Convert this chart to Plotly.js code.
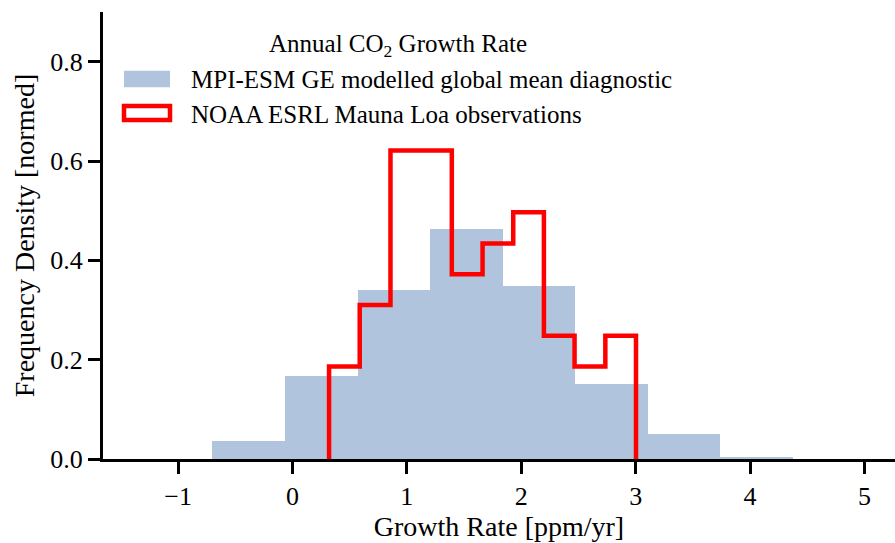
<!DOCTYPE html>
<html>
<head>
<meta charset="utf-8">
<script src="https://cdn.plot.ly/plotly-3.0.1.min.js"></script>
<style>html,body{margin:0;padding:0;background:#fff;}#chart{width:895px;height:543px;}</style>
</head>
<body>
<div id="chart"></div>
<script>
// Modelled (MPI-ESM GE) histogram: bin edges and normalised density
const modelEdges = [-0.70, -0.0655, 0.569, 1.2035, 1.838, 2.4725, 3.107, 3.7415, 4.376];
const modelDensity = [0.037, 0.168, 0.340, 0.463, 0.349, 0.152, 0.050, 0.005];

// Observed (NOAA ESRL Mauna Loa) histogram: bin edges and normalised density
const obsEdges = [0.320, 0.588, 0.857, 1.125, 1.393, 1.662, 1.930, 2.198, 2.466, 2.735, 3.003];
const obsDensity = [0.186, 0.310, 0.621, 0.621, 0.372, 0.434, 0.497, 0.248, 0.186, 0.248];

const xTicks = [-1, 0, 1, 2, 3, 4, 5];
const yTicks = [0.0, 0.2, 0.4, 0.6, 0.8];

const legendTitle = 'Annual CO<sub>2</sub> Growth Rate';
const modelName = 'MPI-ESM GE modelled global mean diagnostic';
const obsName = 'NOAA ESRL Mauna Loa observations';

const FONT = '"Liberation Serif", "Times New Roman", serif';

// bars from edges
const mCenters = [], mWidths = [];
for (let i = 0; i < modelDensity.length; i++) {
  mCenters.push((modelEdges[i] + modelEdges[i + 1]) / 2);
  mWidths.push(modelEdges[i + 1] - modelEdges[i]);
}

// step outline from edges
const sx = [obsEdges[0]], sy = [0];
for (let i = 0; i < obsDensity.length; i++) {
  sx.push(obsEdges[i], obsEdges[i + 1]);
  sy.push(obsDensity[i], obsDensity[i]);
}
sx.push(obsEdges[obsEdges.length - 1]); sy.push(0);

const traces = [
  {type: 'bar', x: mCenters, y: modelDensity, width: mWidths, name: modelName,
   marker: {color: '#b0c4de', line: {width: 0}}, hoverinfo: 'skip', showlegend: false},
  {type: 'scatter', mode: 'lines', x: sx, y: sy, name: obsName,
   line: {color: '#ff0000', width: 4.5, shape: 'linear'}, hoverinfo: 'skip', showlegend: false}
];

const L = 103, T = 12, W = 895, H = 543, B = 84;
const pw = W - L, ph = H - T - B;
const px = v => (v - L) / pw;
const py = v => (H - B - v) / ph;

const layout = {
  width: W, height: H,
  margin: {l: L, r: 0, t: T, b: B, pad: 0},
  paper_bgcolor: '#fff', plot_bgcolor: '#fff',
  font: {family: FONT, color: '#000', size: 25},
  showlegend: false,
  bargap: 0,
  xaxis: {
    range: [-1.656, 5.267], tickvals: xTicks, ticktext: xTicks.map(v => v < 0 ? '\u2212' + Math.abs(v) : String(v)),
    showgrid: false, zeroline: false, showline: true, linecolor: '#000', linewidth: 3,
    ticks: 'outside', ticklen: 12, tickwidth: 3, tickcolor: '#000',
    tickfont: {family: FONT, size: 26, color: '#000'},
    title: {text: 'Growth Rate [ppm/yr]', font: {family: FONT, size: 28, color: '#000'}, standoff: 3}
  },
  yaxis: {
    range: [0, 0.9], tickvals: yTicks, ticktext: yTicks.map(v => v.toFixed(1)),
    showgrid: false, zeroline: false, showline: true, linecolor: '#000', linewidth: 3,
    ticks: 'outside', ticklen: 12, tickwidth: 3, tickcolor: '#000',
    tickfont: {family: FONT, size: 26, color: '#000'},
    title: {text: 'Frequency Density [normed]', font: {family: FONT, size: 28, color: '#000'}, standoff: 8}
  },
  shapes: [
    {type: 'rect', xref: 'paper', yref: 'paper', x0: px(124), x1: px(170), y0: py(87.3), y1: py(70.7),
     fillcolor: '#b0c4de', line: {width: 0}},
    {type: 'rect', xref: 'paper', yref: 'paper', x0: px(124), x1: px(170), y0: py(120), y1: py(106),
     fillcolor: 'rgba(0,0,0,0)', line: {color: '#ff0000', width: 4.5}}
  ],
  annotations: [
    {xref: 'paper', yref: 'paper', x: px(398), y: py(45), text: legendTitle, showarrow: false,
     xanchor: 'center', yanchor: 'middle', font: {family: FONT, size: 25, color: '#000'}},
    {xref: 'paper', yref: 'paper', x: px(189), y: py(79), text: modelName, showarrow: false,
     xanchor: 'left', yanchor: 'middle', font: {family: FONT, size: 25, color: '#000'}},
    {xref: 'paper', yref: 'paper', x: px(189), y: py(114), text: obsName, showarrow: false,
     xanchor: 'left', yanchor: 'middle', font: {family: FONT, size: 25, color: '#000'}}
  ]
};

Plotly.newPlot('chart', traces, layout, {displayModeBar: false, staticPlot: true});
</script>
</body>
</html>
